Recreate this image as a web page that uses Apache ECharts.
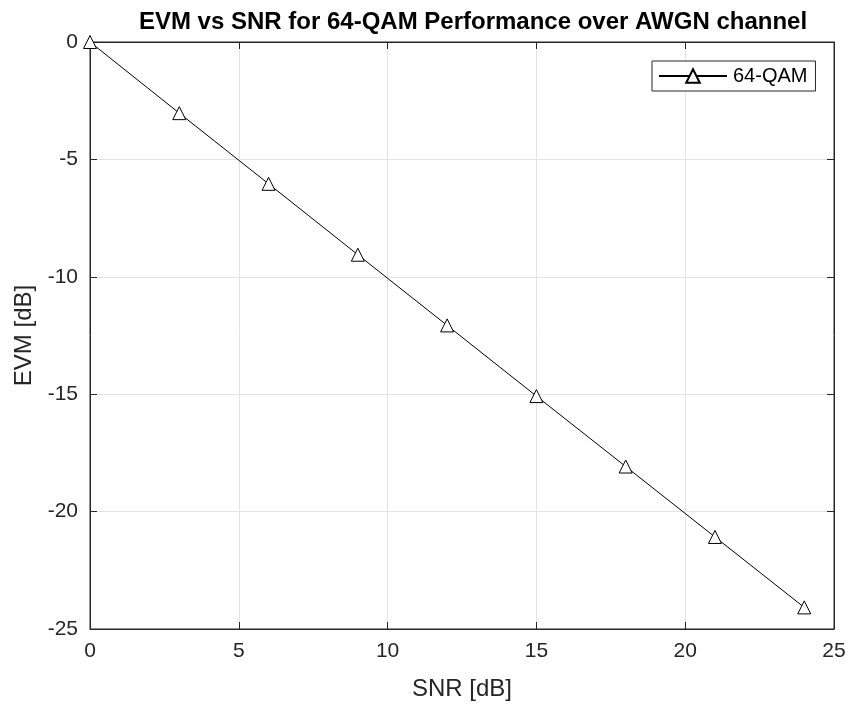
<!DOCTYPE html>
<html><head><meta charset="utf-8">
<script src="https://cdn.jsdelivr.net/npm/echarts@6/dist/echarts.min.js"></script>
<style>html,body{margin:0;padding:0;background:#fff}#c{width:849px;height:706px}</style>
</head><body><div id="c"></div>
<script>
const snr = [0, 3, 6, 9, 12, 15, 18, 21, 24];
const evm = [0, -3.03, -6.04, -9.06, -12.07, -15.08, -18.08, -21.08, -24.08];
const seriesName = '64-QAM';
const titleText = 'EVM vs SNR for 64-QAM Performance over AWGN channel';
const xLabel = 'SNR [dB]';
const yLabel = 'EVM [dB]';

const chart = echarts.init(document.getElementById('c'));
const font = 'Liberation Sans, Arial, sans-serif';
const txt = '#262626';
const gridLine = {show: true, lineStyle: {color: '#e3e3e3', width: 1}};
const tick = {show: true, inside: true, length: 7, lineStyle: {color: txt}};
const line = {show: true, onZero: false, lineStyle: {color: txt, width: 1}};
chart.setOption({
  animation: false,
  backgroundColor: '#fff',
  title: {text: titleText, left: 468, top: 5, textAlign: 'center',
    textStyle: {fontFamily: font, fontSize: 24, fontWeight: 'bold', color: '#000'}},
  grid: {left: 90, top: 42, right: 15, bottom: 75, show: true, borderColor: txt, borderWidth: 1},
  legend: {left: 652, top: 61, orient: 'vertical', backgroundColor: '#fff',
    borderColor: txt, borderWidth: 1, padding: [5, 8, 5, 6], itemWidth: 68, itemHeight: 17, itemGap: 0,
    textStyle: {fontFamily: font, fontSize: 20, color: '#000', padding: [0, 0, 0, 1]}, data: [seriesName]},
  xAxis: [{type: 'value', min: 0, max: 25, interval: 5, position: 'bottom',
    name: xLabel, nameLocation: 'middle', nameGap: 48,
    nameTextStyle: {fontFamily: font, fontSize: 24, color: txt},
    axisLine: line, axisTick: tick,
    axisLabel: {fontFamily: font, fontSize: 21, color: txt, margin: 12},
    splitLine: gridLine},
    {type: 'value', min: 0, max: 25, interval: 5, position: 'top',
    axisLine: line, axisTick: tick,
    axisLabel: {show: false}, splitLine: {show: false}}],
  yAxis: [{type: 'value', min: -25, max: 0, interval: 5, position: 'left',
    name: yLabel, nameLocation: 'middle', nameGap: 51,
    nameTextStyle: {fontFamily: font, fontSize: 24, color: txt},
    axisLine: line, axisTick: tick,
    axisLabel: {fontFamily: font, fontSize: 21, color: txt, margin: 12},
    splitLine: gridLine},
    {type: 'value', min: -25, max: 0, interval: 5, position: 'right',
    axisLine: line, axisTick: tick,
    axisLabel: {show: false}, splitLine: {show: false}}],
  series: [{name: seriesName, type: 'line', xAxisIndex: 0, yAxisIndex: 0,
    data: snr.map((x, i) => [x, evm[i]]),
    symbol: 'triangle', symbolSize: 13, showAllSymbol: true,
    lineStyle: {color: '#000', width: 1},
    itemStyle: {color: '#fff', borderColor: '#000', borderWidth: 1},
    z: 5}]
});
</script></body></html>
